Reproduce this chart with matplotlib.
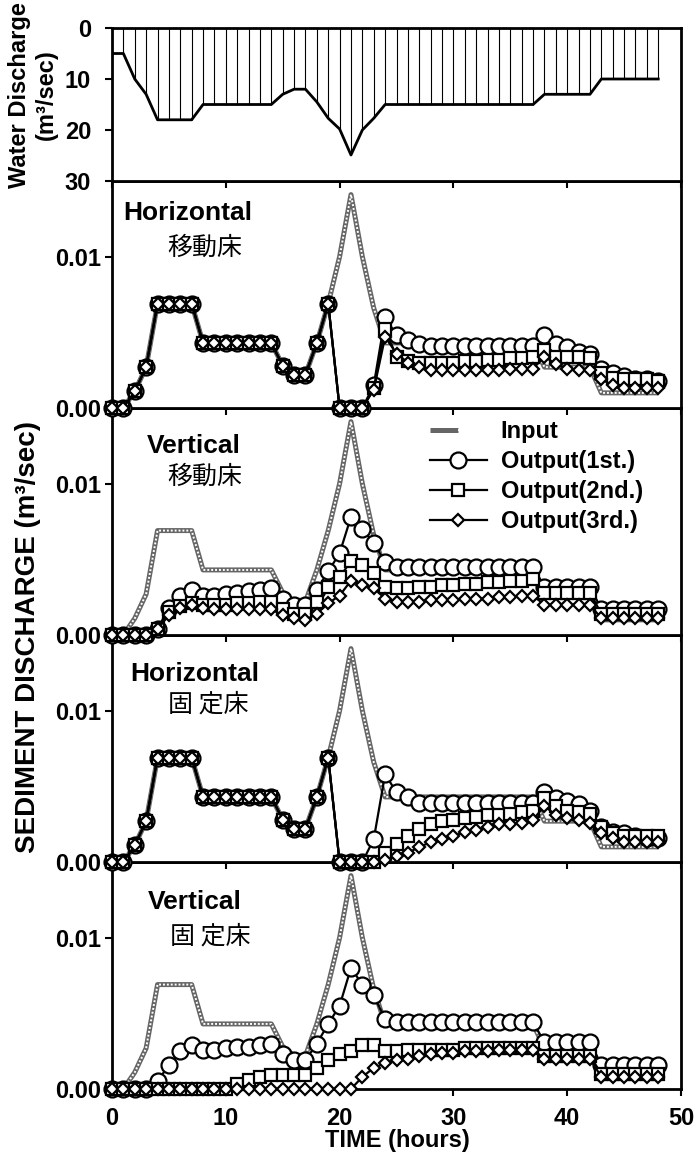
import numpy as np
import matplotlib
matplotlib.use('Agg')
import matplotlib.pyplot as plt
from matplotlib.lines import Line2D
from matplotlib.legend_handler import HandlerTuple

plt.rcParams['font.family'] = ['Liberation Sans', 'DejaVu Sans']
plt.rcParams['font.weight'] = 'bold'

# hourly time steps
hours = np.arange(49)

# water discharge (m3/sec)
water_q = [5, 5, 10, 13, 18, 18, 18, 18, 15, 15, 15, 15, 15, 15, 15, 13, 12, 12, 14.5, 17.7,
           19.8, 24.9, 20, 17.7, 15, 15, 15, 15, 15, 15, 15, 15, 15, 15, 15, 15, 15, 15,
           13, 13, 13, 13, 13, 10, 10, 10, 10, 10, 10]

# sediment discharge, in units of 1e-3 m3/sec
sed_in = [0, 0, 1.1, 2.7, 6.9, 6.9, 6.9, 6.9, 4.3, 4.3, 4.3, 4.3, 4.3, 4.3, 4.3, 2.8, 2.2, 2.2, 4.3, 6.9,
          10.0, 14.1, 10.0, 6.6, 4.3, 4.3, 4.3, 4.3, 4.3, 4.3, 4.3, 4.3, 4.3, 4.3, 4.3, 4.3, 4.3, 4.3,
          2.7, 2.7, 2.7, 2.7, 2.7, 1.0, 1.0, 1.0, 1.0, 1.0, 1.0]

h_mov_1 = [0, 0, 1.1, 2.7, 6.9, 6.9, 6.9, 6.9, 4.3, 4.3, 4.3, 4.3, 4.3, 4.3, 4.3, 2.8, 2.2, 2.2, 4.3, 6.9,
           0, 0, 0, 1.5, 6.0, 4.8, 4.5, 4.2, 4.1, 4.1, 4.1, 4.1, 4.1, 4.1, 4.1, 4.1, 4.1, 4.1,
           4.8, 4.2, 4.0, 3.7, 3.6, 2.6, 2.3, 2.1, 1.9, 1.9, 1.8]
h_mov_2 = [0, 0, 1.1, 2.7, 6.9, 6.9, 6.9, 6.9, 4.3, 4.3, 4.3, 4.3, 4.3, 4.3, 4.3, 2.8, 2.2, 2.2, 4.3, 6.9,
           0, 0, 0, 1.3, 5.2, 3.4, 3.1, 3.0, 3.0, 3.0, 3.0, 3.1, 3.1, 3.2, 3.2, 3.3, 3.3, 3.4,
           3.8, 3.4, 3.4, 3.4, 3.3, 2.3, 2.0, 1.9, 1.9, 1.9, 1.8]
h_mov_3 = [0, 0, 1.1, 2.7, 6.9, 6.9, 6.9, 6.9, 4.3, 4.3, 4.3, 4.3, 4.3, 4.3, 4.3, 2.8, 2.2, 2.2, 4.3, 6.9,
           0, 0, 0, 1.2, 4.7, 3.6, 3.0, 2.7, 2.5, 2.5, 2.5, 2.5, 2.5, 2.5, 2.5, 2.6, 2.6, 2.6,
           3.4, 2.9, 2.6, 2.5, 2.5, 1.9, 1.5, 1.3, 1.3, 1.3, 1.3]

v_mov_1 = [0, 0, 0, 0, 0.4, 1.8, 2.6, 3.0, 2.6, 2.6, 2.7, 2.8, 2.9, 3.0, 3.1, 2.4, 2.0, 2.0, 3.0, 4.2,
           5.4, 7.8, 7.0, 6.1, 4.8, 4.5, 4.5, 4.5, 4.5, 4.5, 4.5, 4.5, 4.5, 4.5, 4.5, 4.5, 4.5, 4.5,
           3.2, 3.2, 3.2, 3.2, 3.2, 1.7, 1.7, 1.7, 1.7, 1.7, 1.7]
v_mov_2 = [0, 0, 0, 0, 0.4, 1.5, 1.9, 2.1, 2.0, 2.0, 2.0, 2.1, 2.1, 2.2, 2.2, 1.7, 1.4, 1.4, 2.2, 3.2,
           3.8, 4.9, 4.6, 4.1, 3.2, 3.1, 3.1, 3.2, 3.2, 3.3, 3.3, 3.4, 3.4, 3.5, 3.5, 3.6, 3.6, 3.7,
           2.8, 2.8, 2.8, 2.8, 2.8, 1.4, 1.4, 1.4, 1.4, 1.4, 1.4]
v_mov_3 = [0, 0, 0, 0, 0.4, 1.3, 1.8, 2.0, 1.8, 1.7, 1.7, 1.7, 1.7, 1.7, 1.7, 1.3, 1.1, 1.0, 1.4, 2.1,
           2.6, 3.6, 3.3, 3.1, 2.4, 2.2, 2.2, 2.2, 2.3, 2.3, 2.3, 2.4, 2.4, 2.4, 2.5, 2.5, 2.6, 2.6,
           2.0, 2.0, 2.0, 2.0, 2.0, 1.1, 1.1, 1.1, 1.1, 1.1, 1.1]

h_fix_1 = [0, 0, 1.1, 2.7, 6.9, 6.9, 6.9, 6.9, 4.3, 4.3, 4.3, 4.3, 4.3, 4.3, 4.3, 2.8, 2.2, 2.2, 4.3, 6.9,
           0, 0, 0, 1.5, 5.8, 4.6, 4.3, 3.9, 3.9, 3.9, 3.9, 3.9, 3.9, 3.9, 3.9, 3.9, 3.9, 3.9,
           4.6, 4.2, 4.0, 3.8, 3.4, 2.3, 2.0, 1.9, 1.7, 1.6, 1.6]
h_fix_2 = [0, 0, 1.1, 2.7, 6.9, 6.9, 6.9, 6.9, 4.3, 4.3, 4.3, 4.3, 4.3, 4.3, 4.3, 2.8, 2.2, 2.2, 4.3, 6.9,
           0, 0, 0, 0, 0.6, 1.2, 1.7, 2.2, 2.5, 2.7, 2.8, 2.9, 3.0, 3.1, 3.1, 3.2, 3.3, 3.4,
           4.2, 3.7, 3.4, 3.3, 3.2, 2.3, 1.9, 1.7, 1.7, 1.7, 1.7]
h_fix_3 = [0, 0, 1.1, 2.7, 6.9, 6.9, 6.9, 6.9, 4.3, 4.3, 4.3, 4.3, 4.3, 4.3, 4.3, 2.8, 2.2, 2.2, 4.3, 6.9,
           0, 0, 0, 0, 0.1, 0.4, 0.6, 1.0, 1.3, 1.5, 1.7, 2.0, 2.1, 2.3, 2.5, 2.5, 2.6, 2.8,
           3.7, 3.1, 2.9, 2.8, 2.6, 1.9, 1.6, 1.3, 1.3, 1.3, 1.3]

v_fix_1 = [0, 0, 0, 0, 0.5, 1.6, 2.5, 2.9, 2.6, 2.6, 2.7, 2.8, 2.8, 2.9, 3.0, 2.3, 1.9, 1.9, 3.0, 4.3,
           5.5, 8.0, 6.9, 6.2, 4.6, 4.4, 4.4, 4.4, 4.4, 4.4, 4.4, 4.4, 4.4, 4.4, 4.4, 4.4, 4.4, 4.4,
           3.1, 3.1, 3.1, 3.1, 3.1, 1.6, 1.6, 1.6, 1.6, 1.6, 1.6]
v_fix_2 = [0, 0, 0, 0, 0, 0, 0, 0, 0, 0, 0, 0.3, 0.6, 0.8, 0.9, 0.9, 0.9, 0.9, 1.4, 1.9,
           2.3, 2.5, 2.9, 2.9, 2.5, 2.5, 2.6, 2.6, 2.6, 2.6, 2.6, 2.7, 2.7, 2.7, 2.7, 2.7, 2.7, 2.7,
           2.2, 2.2, 2.2, 2.2, 2.2, 1.0, 1.0, 1.0, 1.0, 1.0, 1.0]
v_fix_3 = [0, 0, 0, 0, 0, 0, 0, 0, 0, 0, 0, 0, 0, 0, 0, 0, 0, 0, 0, 0,
           0, 0, 0.8, 1.4, 1.7, 1.9, 2.0, 2.2, 2.3, 2.4, 2.4, 2.5, 2.5, 2.5, 2.6, 2.6, 2.6, 2.6,
           2.0, 2.0, 2.0, 2.0, 2.0, 0.8, 0.8, 0.8, 0.8, 0.8, 0.8]

panel_names = ['Horizontal', 'Vertical', 'Horizontal', 'Vertical']
panel_beds = ['移動床', '移動床', '固 定床', '固 定床']
panel_series = [(h_mov_1, h_mov_2, h_mov_3), (v_mov_1, v_mov_2, v_mov_3),
                (h_fix_1, h_fix_2, h_fix_3), (v_fix_1, v_fix_2, v_fix_3)]
legend_labels = ['Input', 'Output(1st.)', 'Output(2nd.)', 'Output(3rd.)']
sed_ticks = [0, 10]
sed_ticklabels = ['0.00', '0.01']
q_ticks = [0, 10, 20, 30]
time_ticks = [0, 10, 20, 30, 40, 50]

# text placement in axes fraction (name x, name y, bed x, bed y)
text_pos = [(0.019, 0.860, 0.097, 0.706), (0.062, 0.833, 0.098, 0.696),
            (0.032, 0.827, 0.098, 0.695), (0.063, 0.824, 0.102, 0.670)]

W, H = 697, 1153
fig = plt.figure(figsize=(W / 100, H / 100), dpi=100)
gs = fig.add_gridspec(5, 1, height_ratios=[153, 227, 227, 227, 227], hspace=0,
                      left=112 / W, right=681 / W, top=1 - 28 / H, bottom=1 - 1089 / H)

spine_w = 2.0

def style_axes(ax):
    for s in ax.spines.values():
        s.set_linewidth(spine_w)
    ax.set_xlim(0, 50)
    ax.set_xticks(time_ticks)
    ax.tick_params(axis='both', direction='out', length=5, width=1.5, labelsize=17)

# water discharge panel, hatched down from zero
axq = fig.add_subplot(gs[0])
axq.vlines(hours, 0, water_q, color='k', lw=0.8)
axq.plot(hours, water_q, color='k', lw=2.0)
style_axes(axq)
axq.set_ylim(30, 0)
axq.set_yticks(q_ticks)
axq.tick_params(axis='y', pad=10)
axq.tick_params(axis='x', labelbottom=False)
axq.set_zorder(10)

# input drawn as a grey band with a white dotted core (checkered look)
in_base = dict(color='0.4', lw=3.6, solid_capstyle='butt')
in_dots = dict(color='white', lw=1.4, ls=(0, (1, 1)))
out1 = dict(color='k', marker='o', mfc='white', ms=11.5, mew=1.6, lw=1.6)
out2 = dict(color='k', marker='s', mfc='white', ms=9, mew=1.6, lw=1.6)
out3 = dict(color='k', marker='D', mfc='white', ms=6.5, mew=1.6, lw=1.6)

axes = []
for i in range(4):
    ax = fig.add_subplot(gs[i + 1])
    s1, s2, s3 = panel_series[i]
    ax.plot(hours, sed_in, zorder=2, **in_base)
    ax.plot(hours, sed_in, zorder=2.1, **in_dots)
    ax.plot(hours, s1, clip_on=False, zorder=3, **out1)
    ax.plot(hours, s2, clip_on=False, zorder=4, **out2)
    ax.plot(hours, s3, clip_on=False, zorder=5, **out3)
    style_axes(ax)
    ax.set_ylim(0, 15)
    ax.set_yticks(sed_ticks)
    ax.set_yticklabels(sed_ticklabels)
    ax.tick_params(axis='y', pad=3)
    ax.tick_params(axis='x', labelbottom=(i == 3), pad=8)
    ax.set_zorder(9 - i)
    nx, ny, bx, by = text_pos[i]
    ax.text(nx, ny, panel_names[i], transform=ax.transAxes, fontsize=19,
            fontweight='bold', ha='left', va='center')
    ax.text(bx, by, panel_beds[i], transform=ax.transAxes, fontsize=18,
            family=['Noto Sans CJK JP', 'DejaVu Sans'], fontweight='normal',
            ha='left', va='center')
    axes.append(ax)

h_in = (Line2D([], [], **in_base), Line2D([], [], **in_dots))
handles = [h_in, Line2D([], [], **out1), Line2D([], [], **out2), Line2D([], [], **out3)]
axes[1].legend(handles, legend_labels, handler_map={tuple: HandlerTuple(ndivide=None, pad=0)},
               loc='upper left', bbox_to_anchor=((430 - 112) / 569, 1 - (421 - 409) / 227),
               frameon=False, fontsize=17, handlelength=2.4, handletextpad=0.6,
               labelspacing=0.3, borderpad=0, borderaxespad=0)

fig.text(28 / W, 1 - 637 / H, 'SEDIMENT DISCHARGE (m³/sec)', rotation=90,
         ha='center', va='center', fontsize=20, fontweight='bold')
fig.text(20 / W, 1 - 95 / H, 'Water Discharge', rotation=90,
         ha='center', va='center', fontsize=17, fontweight='bold')
fig.text(46 / W, 1 - 95 / H, '(m³/sec)', rotation=90,
         ha='center', va='center', fontsize=17, fontweight='bold')
fig.text(397 / W, 1 - 1140 / H, 'TIME (hours)', ha='center', va='center',
         fontsize=17, fontweight='bold')

fig.savefig('out.png', dpi=100)
